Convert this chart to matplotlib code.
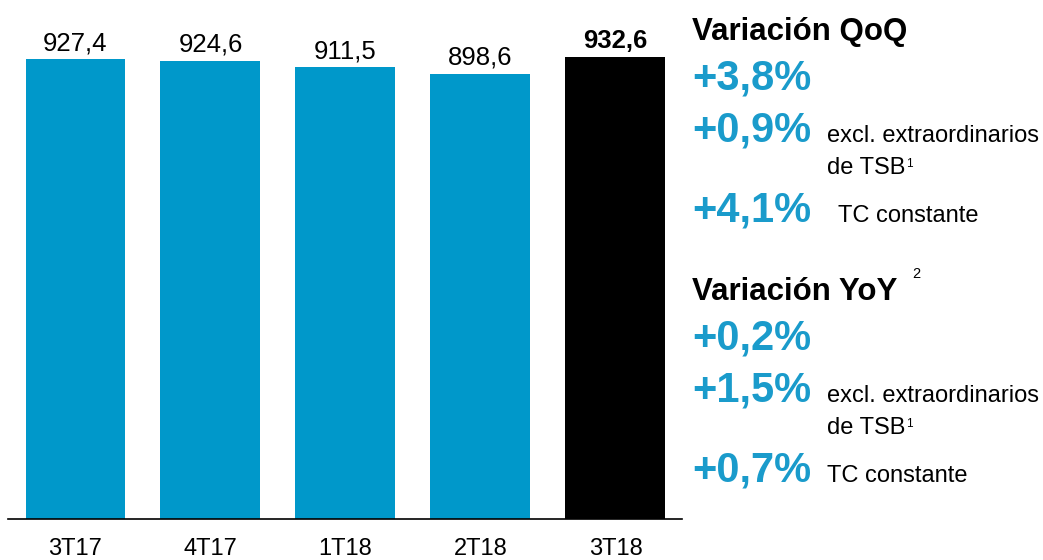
import matplotlib
matplotlib.use("Agg")
import matplotlib.pyplot as plt

categories = ["3T17", "4T17", "1T18", "2T18", "3T18"]
values = [927.4, 924.6, 911.5, 898.6, 932.6]
value_labels = ["927,4", "924,6", "911,5", "898,6", "932,6"]

BLUE = "#0098CA"
TEXT_BLUE = "#1A9BCB"
plt.rcParams['font.family'] = ['Liberation Sans', 'DejaVu Sans']

W, H = 1043, 560
fig = plt.figure(figsize=(W / 100, H / 100), dpi=100)

ax_left, ax_right = 8, 682
base_y = 519
ax = fig.add_axes([ax_left / W, (H - base_y) / H, (ax_right - ax_left) / W, base_y / H])
pitch = 135.0
c0 = 75.5
ax.set_xlim((ax_left - c0) / pitch, (ax_right - c0) / pitch)
ax.set_ylim(0, base_y / 0.4957)

xs = list(range(len(categories)))
colors = [BLUE] * (len(categories) - 1) + ["black"]
ax.bar(xs, values, width=100 / pitch, color=colors, edgecolor='none')

for i, (v, lab) in enumerate(zip(values, value_labels)):
    ax.annotate(lab, (i, v), xytext=(0, 6.5), textcoords='offset points',
                ha='center', va='baseline', fontsize=18.5,
                fontweight='bold' if i == len(values) - 1 else 'normal')

for s in ['top', 'right', 'left']:
    ax.spines[s].set_visible(False)
ax.spines['bottom'].set_linewidth(1.2)
ax.set_yticks([])
ax.set_xticks(xs)
ax.set_xticklabels(categories, fontsize=17)
ax.tick_params(axis='x', length=0, pad=14)

def ftext(x, y, s, **kw):
    fig.text(x / W, 1 - y / H, s, va='baseline', ha='left', **kw)

BIG = 30
SMALL = 17
# Right panel
ftext(692, 40, "Variación QoQ", fontsize=22.5, fontweight='bold', color='black')
ftext(692, 90, "+3,8%", fontsize=BIG, fontweight='bold', color=TEXT_BLUE)
ftext(692, 142, "+0,9%", fontsize=BIG, fontweight='bold', color=TEXT_BLUE)
ftext(827, 142, "excl. extraordinarios", fontsize=SMALL, color='black')
ftext(827, 174, "de TSB", fontsize=SMALL, color='black')
ftext(906, 167, "1", fontsize=8.5, color='black')
ftext(692, 222, "+4,1%", fontsize=BIG, fontweight='bold', color=TEXT_BLUE)
ftext(838, 222, "TC constante", fontsize=SMALL, color='black')

ftext(692, 300, "Variación YoY", fontsize=22.5, fontweight='bold', color='black')
ftext(912, 277.5, "2", fontsize=10.5, color='black')
ftext(692, 350, "+0,2%", fontsize=BIG, fontweight='bold', color=TEXT_BLUE)
ftext(692, 402, "+1,5%", fontsize=BIG, fontweight='bold', color=TEXT_BLUE)
ftext(827, 402, "excl. extraordinarios", fontsize=SMALL, color='black')
ftext(827, 434, "de TSB", fontsize=SMALL, color='black')
ftext(906, 427, "1", fontsize=8.5, color='black')
ftext(692, 482, "+0,7%", fontsize=BIG, fontweight='bold', color=TEXT_BLUE)
ftext(827, 482, "TC constante", fontsize=SMALL, color='black')

fig.savefig("out.png", dpi=100)
